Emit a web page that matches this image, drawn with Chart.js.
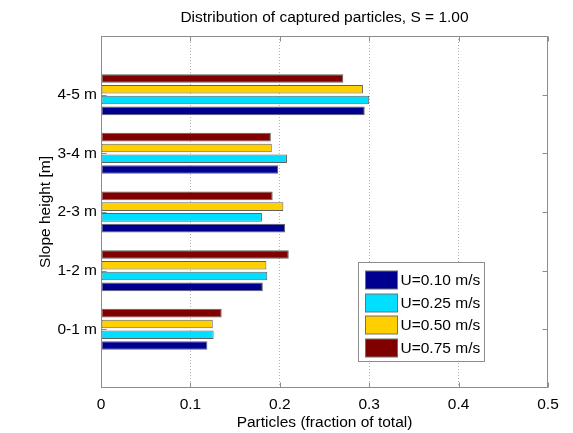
<!DOCTYPE html>
<html>
<head>
<meta charset="utf-8">
<script src="https://cdn.jsdelivr.net/npm/chart.js@4"></script>
<style>
  html, body { margin: 0; padding: 0; background: #fff; }
  #c { display: block; }
</style>
</head>
<body>
<canvas id="c" width="573" height="433"></canvas>
<script>
// Slope height bands (bottom to top)
const categories = ['0-1 m', '1-2 m', '2-3 m', '3-4 m', '4-5 m'];
// Flow velocity series
const seriesLabels = ['U=0.10 m/s', 'U=0.25 m/s', 'U=0.50 m/s', 'U=0.75 m/s'];
// Fraction of captured particles per band
const u010 = [0.119, 0.181, 0.206, 0.198, 0.295];
const u025 = [0.126, 0.186, 0.180, 0.208, 0.300];
const u050 = [0.125, 0.185, 0.204, 0.191, 0.293];
const u075 = [0.135, 0.210, 0.192, 0.190, 0.271];
const xTicks = [0, 0.1, 0.2, 0.3, 0.4, 0.5];

const colors = ['#000090', '#00dfff', '#ffcf00', '#800000'];
const FONT = "'Liberation Sans', Arial, Helvetica, sans-serif";
const FS = 15.5;
const font = { family: FONT, size: FS, weight: 'normal' };

const yPos = categories.map((_, i) => i + 1);
const series = [u010, u025, u050, u075];

const datasets = series.map((vals, k) => ({
  label: seriesLabels[k],
  data: vals.map((v, i) => ({ x: v, y: yPos[i] })),
  backgroundColor: colors[k],
  borderColor: '#606060',
  borderWidth: 1,
  borderSkipped: false,
  categoryPercentage: 0.735,
  barPercentage: 0.8,
  // first series sits at the bottom of each group
  order: series.length - 1 - k
}));

// Axes box, inward tick marks and the boxed legend
const frame = {
  id: 'frame',
  afterDatasetsDraw(chart) {
    const { ctx, chartArea: a, scales } = chart;
    ctx.save();
    ctx.strokeStyle = '#8c8c8c';
    ctx.lineWidth = 1;
    const L = Math.round(a.left) + 0.5, R = Math.round(a.right) - 0.5;
    const T = Math.round(a.top) + 0.5, B = Math.round(a.bottom) - 0.5;
    ctx.beginPath();
    xTicks.forEach(v => {
      const px = Math.round(scales.x.getPixelForValue(v)) + 0.5;
      ctx.moveTo(px, B); ctx.lineTo(px, B - 5);
      ctx.moveTo(px, T); ctx.lineTo(px, T + 5);
    });
    yPos.forEach(v => {
      const py = Math.round(scales.y.getPixelForValue(v)) + 0.5;
      ctx.moveTo(L, py); ctx.lineTo(L + 5, py);
      ctx.moveTo(R, py); ctx.lineTo(R - 5, py);
    });
    ctx.stroke();
    ctx.strokeRect(L, T, R - L, B - T);
    ctx.restore();
  },
  afterDraw(chart) {
    const { ctx, chartArea: a } = chart;
    const w = 126, h = 99;
    const bx = Math.round(a.right - 64 - w) + 0.5;
    const by = Math.round(a.bottom - 27 - h) + 0.5;
    ctx.save();
    ctx.fillStyle = '#fff';
    ctx.fillRect(bx, by, w, h);
    ctx.strokeStyle = '#8c8c8c';
    ctx.lineWidth = 1;
    ctx.strokeRect(bx, by, w, h);
    ctx.font = FS + 'px ' + FONT;
    ctx.textBaseline = 'middle';
    ctx.textAlign = 'left';
    chart.data.datasets.forEach((ds, i) => {
      const ry = by + 8.5 + i * 22.7;
      ctx.fillStyle = ds.backgroundColor;
      ctx.fillRect(bx + 7, Math.round(ry), 32, 18);
      ctx.strokeStyle = '#707070';
      ctx.strokeRect(bx + 7, Math.round(ry), 32, 18);
      ctx.fillStyle = '#000';
      ctx.fillText(ds.label, bx + 42, Math.round(ry) + 10);
    });
    ctx.restore();
  }
};

new Chart(document.getElementById('c'), {
  type: 'bar',
  data: { datasets },
  plugins: [frame],
  options: {
    indexAxis: 'y',
    responsive: false,
    animation: false,
    layout: { padding: { left: 0, right: 25, top: 0, bottom: 0 } },
    plugins: {
      legend: { display: false },
      tooltip: { enabled: false },
      title: {
        display: true,
        fullSize: false,
        text: 'Distribution of captured particles, S = 1.00',
        font: font,
        color: '#000',
        padding: { top: 8.7, bottom: 8.7 }
      }
    },
    scales: {
      x: {
        type: 'linear',
        min: 0,
        max: 0.5,
        position: 'bottom',
        afterBuildTicks: s => { s.ticks = xTicks.map(v => ({ value: v })); },
        ticks: { font: font, color: '#000', padding: 7.2, callback: v => String(v) },
        grid: {
          drawTicks: false,
          lineWidth: 1,
          color: c => (c.tick && (c.tick.value === 0 || c.tick.value === 0.5)) ? 'rgba(0,0,0,0)' : '#b4b4b4'
        },
        border: { display: false, dash: [1, 2] },
        title: {
          display: true,
          text: 'Particles (fraction of total)',
          font: font,
          color: '#000',
          padding: { top: 0, bottom: 1.2 }
        },
        afterFit: s => { s.height = 45; }
      },
      y: {
        type: 'linear',
        min: 0,
        max: 6,
        offset: false,
        position: 'left',
        afterBuildTicks: s => { s.ticks = yPos.map(v => ({ value: v })); },
        ticks: { font: font, color: '#000', padding: 4, callback: v => categories[v - 1] },
        grid: { display: false, drawTicks: false },
        border: { display: false },
        title: {
          display: true,
          text: 'Slope height [m]',
          font: font,
          color: '#000',
          padding: { top: 36.7, bottom: 0 }
        },
        afterFit: s => { s.width = 101; }
      }
    }
  }
});
</script>
</body>
</html>
